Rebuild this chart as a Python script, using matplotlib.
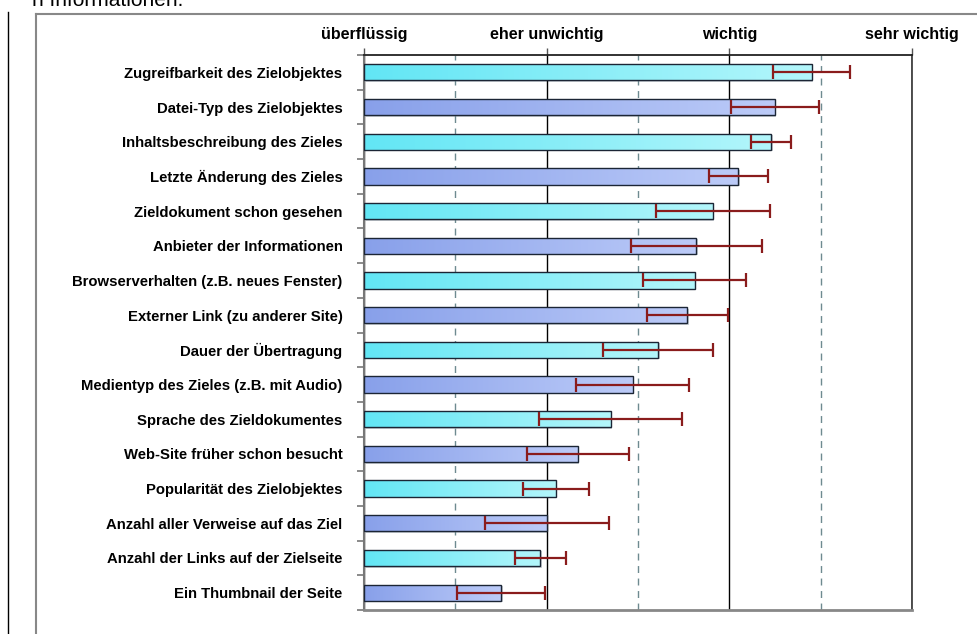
import numpy as np
import matplotlib
matplotlib.use("Agg")
import matplotlib.pyplot as plt
from matplotlib.lines import Line2D

plt.rcParams['font.family'] = ['Liberation Sans', 'DejaVu Sans']

# ── Daten ────────────────────────────────────────────────────────────────────
kategorien = [
    "Zugreifbarkeit des Zielobjektes",
    "Datei-Typ des Zielobjektes",
    "Inhaltsbeschreibung des Zieles",
    "Letzte Änderung des Zieles",
    "Zieldokument schon gesehen",
    "Anbieter der Informationen",
    "Browserverhalten (z.B. neues Fenster)",
    "Externer Link (zu anderer Site)",
    "Dauer der Übertragung",
    "Medientyp des Zieles (z.B. mit Audio)",
    "Sprache des Zieldokumentes",
    "Web-Site früher schon besucht",
    "Popularität des Zielobjektes",
    "Anzahl aller Verweise auf das Ziel",
    "Anzahl der Links auf der Zielseite",
    "Ein Thumbnail der Seite",
]
mittelwert = [3.45, 3.25, 3.23, 3.05, 2.91, 2.82, 2.81, 2.77,
              2.61, 2.47, 2.35, 2.17, 2.05, 2.00, 1.965, 1.75]
fehler = [0.21, 0.24, 0.11, 0.16, 0.31, 0.36, 0.28, 0.22,
          0.30, 0.31, 0.39, 0.28, 0.18, 0.34, 0.14, 0.24]
skala_pos = [1, 2, 3, 4]
skala_labels = ["überflüssig", "eher unwichtig", "wichtig", "sehr wichtig"]

farbe_cyan = ("#62e6f5", "#b3f6fb")
farbe_blau = ("#88a0ea", "#bccbf8")

# ── Figur ────────────────────────────────────────────────────────────────────
fig = plt.figure(figsize=(9.77, 6.34), dpi=100)
ax = fig.add_axes([364/977, 1-610/634, (912-364)/977, (610-55)/634])

y = np.arange(len(kategorien))
bars = ax.barh(y, np.array(mittelwert) - 1, left=1, height=0.47,
               color="none", edgecolor="#1b2535", linewidth=1.0, zorder=3)

# Farbverlauf pro Balken + leichter Schatten
grad = np.linspace(0, 1, 256).reshape(1, -1)
versatz = matplotlib.transforms.ScaledTranslation(1.5/100, -1.5/100, fig.dpi_scale_trans)
for i, b in enumerate(bars):
    c0, c1 = farbe_cyan if i % 2 == 0 else farbe_blau
    cmap = matplotlib.colors.LinearSegmentedColormap.from_list("g", [c0, c1])
    x0, yb = b.get_x(), b.get_y()
    im = ax.imshow(grad, cmap=cmap, aspect="auto", zorder=2,
                   extent=(x0, x0 + b.get_width(), yb + b.get_height(), yb))
    im.set_clip_path(b)
    shadow = plt.Rectangle((x0, yb), b.get_width(), b.get_height(),
                           facecolor="#a8b0b8", edgecolor="none", zorder=1.5,
                           alpha=0.6, transform=ax.transData + versatz)
    ax.add_patch(shadow)

ax.errorbar(mittelwert, y, xerr=fehler, fmt="none", ecolor="#8a1c1c",
            elinewidth=1.6, capsize=5, capthick=1.6, zorder=4)

ax.set_xlim(1, 4)
ax.set_ylim(len(kategorien) - 0.5, -0.5)

# Gitter
ax.set_xticks(skala_pos)
ax.set_xticks([1.5, 2.5, 3.5], minor=True)
ax.grid(axis="x", which="major", color="black", linewidth=1.0, zorder=0)
ax.grid(axis="x", which="minor", color="#6e8a90", linewidth=1.0,
        linestyle=(0, (5, 4)), zorder=0)

ax.xaxis.tick_top()
ax.set_xticklabels(skala_labels, fontsize=11.5, fontweight="bold")
ax.tick_params(axis="x", which="major", length=5, width=1, color="#555", pad=4)
ax.tick_params(axis="x", which="minor", length=0)

ax.set_yticks(y)
ax.set_yticklabels(kategorien, fontsize=10.7, fontweight="bold")
ax.set_yticks(np.arange(-0.5, len(kategorien)), minor=True)
ax.tick_params(axis="y", which="major", length=0, pad=15.5)
ax.tick_params(axis="y", which="minor", length=5, width=1.2, color="#777")

ax.spines["top"].set_color("#222")
ax.spines["top"].set_linewidth(1.3)
ax.spines["right"].set_color("#333")
ax.spines["right"].set_linewidth(1.2)
ax.spines["left"].set_color("#777")
ax.spines["left"].set_linewidth(1.5)
ax.spines["bottom"].set_color("#888")
ax.spines["bottom"].set_linewidth(2)

# Seitenrahmen
fig.add_artist(Line2D([8/977, 8/977], [0, 1-12/634], color="black", linewidth=1))
fig.add_artist(Line2D([36/977, 36/977], [0, 1-14/634], color="#888", linewidth=1.5))
fig.add_artist(Line2D([36/977, 1], [1-14/634, 1-14/634], color="#888", linewidth=1.5))
fig.text(183/977, 1-6/634, "n Informationen.", ha="right", va="baseline",
         fontsize=15)

fig.savefig("out.png", dpi=100)
